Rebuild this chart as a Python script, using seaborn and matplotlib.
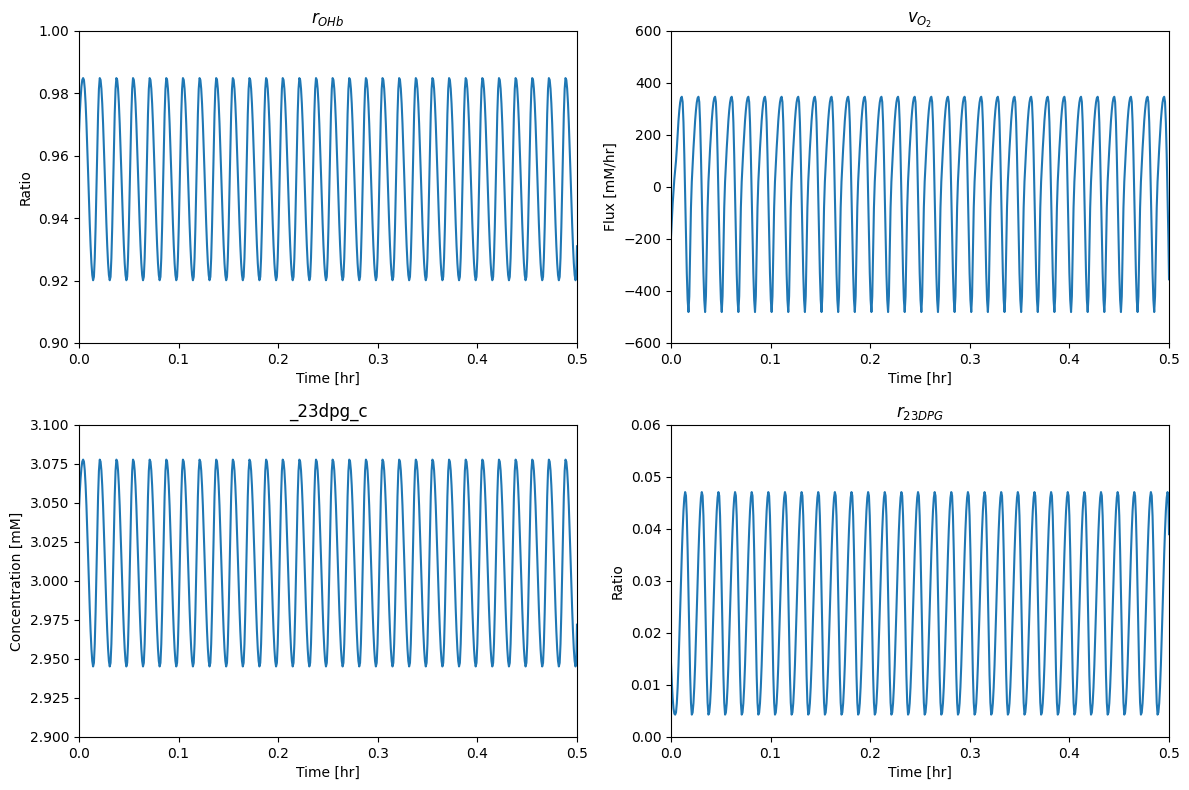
import numpy as np
import pandas as pd
import matplotlib
matplotlib.use("Agg")
import matplotlib.pyplot as plt
import seaborn as sns

# one oscillation cycle (20 samples per cycle)
period_hr = 0.0167
n_cycles = 30
cycle_phase = [0.00, 0.05, 0.10, 0.15, 0.20, 0.25, 0.30, 0.35, 0.40, 0.45,
               0.50, 0.55, 0.60, 0.65, 0.70, 0.75, 0.80, 0.85, 0.90, 0.95]

ohb_cycle = [0.9370, 0.9493, 0.9621, 0.9734, 0.9814, 0.9849, 0.9843, 0.9815, 0.9768, 0.9704,
             0.9629, 0.9546, 0.9462, 0.9382, 0.9312, 0.9256, 0.9218, 0.9201, 0.9212, 0.9272]
ohb_start = [0.9670, 0.9735, 0.9785, 0.9822, 0.9843]
ohb_end = 0.931

vo2_cycle = [-434, -481, -420, -260, -80, 20, 85, 148, 205, 255,
             295, 325, 342, 347, 327, 249, 124, -31, -191, -332]
vo2_start = [-191, -125, -65, -15, 30, 65, 100]
vo2_end = -355

dpg_cycle = [2.9798, 3.0049, 3.0311, 3.0543, 3.0706, 3.0778, 3.0765, 3.0709, 3.0612, 3.0482,
             3.0327, 3.0158, 2.9986, 2.9822, 2.9679, 2.9565, 2.9487, 2.9452, 2.9475, 2.9596]
dpg_start = [3.0455, 3.0570, 3.0660, 3.0725, 3.0765]
dpg_end = 2.972

r23_cycle = [0.0359, 0.0279, 0.0194, 0.0119, 0.0066, 0.0043, 0.0047, 0.0065, 0.0096, 0.0138,
             0.0188, 0.0243, 0.0299, 0.0352, 0.0398, 0.0435, 0.0460, 0.0471, 0.0464, 0.0425]
r23_start = [0.0142, 0.0105, 0.0075, 0.0055, 0.0045]
r23_end = 0.039

t_stop = 0.5


def build_series(cycle, start, end):
    t = (np.arange(n_cycles)[:, None] + np.array(cycle_phase)[None, :]).ravel() * period_hr
    y = np.tile(np.array(cycle, dtype=float), n_cycles)
    y[: len(start)] = start
    keep = t <= t_stop
    t = np.append(t[keep], t_stop)
    y = np.append(y[keep], end)
    return pd.DataFrame({"time": t, "value": y})


panels = [
    (ohb_cycle, ohb_start, ohb_end, r"$r_{OHb}$", "Ratio", (0.90, 1.00)),
    (vo2_cycle, vo2_start, vo2_end, r"$v_{O_2}$", "Flux [mM/hr]", (-600, 600)),
    (dpg_cycle, dpg_start, dpg_end, "_23dpg_c", "Concentration [mM]", (2.90, 3.10)),
    (r23_cycle, r23_start, r23_end, r"$r_{23DPG}$", "Ratio", (0.0, 0.06)),
]

fig, axes = plt.subplots(2, 2, figsize=(11.89, 7.9), dpi=100)
fig.subplots_adjust(left=0.0664, right=0.9832, bottom=0.0671, top=0.9608,
                    wspace=0.1888, hspace=0.2628)

for ax, (cycle, start, end, title, ylabel, ylim) in zip(axes.flat, panels):
    df = build_series(cycle, start, end)
    sns.lineplot(data=df, x="time", y="value", ax=ax, color="#1f77b4",
                 linewidth=1.5, estimator=None, sort=False)
    ax.set_xlim(0, 0.5)
    ax.set_ylim(*ylim)
    ax.set_title(title)
    ax.set_xlabel("Time [hr]")
    ax.set_ylabel(ylabel)

axes[1, 0].set_yticks(np.arange(2.900, 3.1001, 0.025))

fig.savefig("out.png", dpi=100)
